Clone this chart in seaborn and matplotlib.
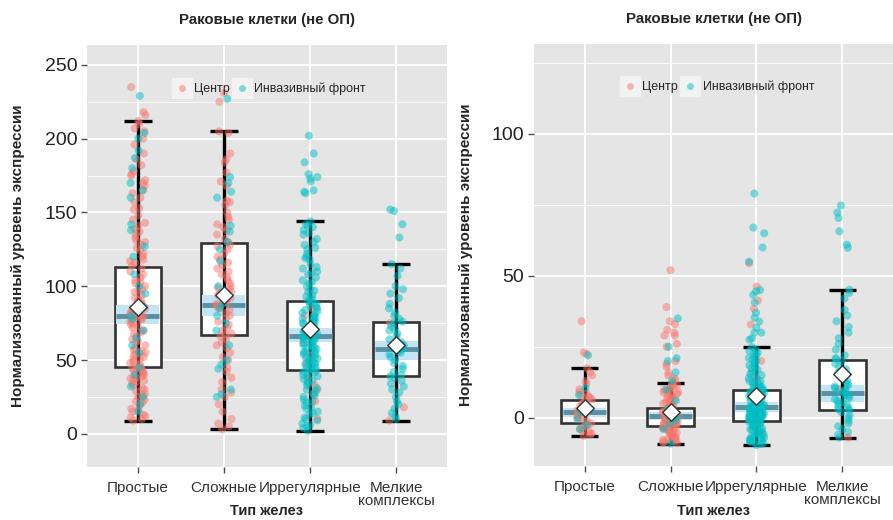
import numpy as np
import pandas as pd
import matplotlib
matplotlib.use("Agg")
import matplotlib.pyplot as plt
from matplotlib.lines import Line2D
from matplotlib.legend_handler import HandlerTuple
from matplotlib.ticker import MultipleLocator
import seaborn as sns

# ---------------- data ----------------
categories = ["Простые", "Сложные", "Иррегулярные", "Мелкие\nкомплексы"]
groups = ["Центр", "Инвазивный фронт"]
title = "Раковые клетки (не ОП)"
xlabel = "Тип желез"
ylabel = "Нормализованный уровень экспрессии"

# Left panel points
L_simple_c = [235, 218, 216, 212, 210, 207, 205, 200, 196, 190, 186, 182, 178, 176, 175, 172, 170, 168, 165, 163,
              160, 157, 153, 152, 148, 145, 143, 141, 139, 137, 135, 133, 131, 130, 128, 126, 124, 122, 120, 118,
              117, 116, 114, 112, 110, 108, 106, 104, 103, 102, 100, 98, 97, 96, 94, 92, 91, 90, 89, 88, 87, 86,
              85, 84.5, 84, 83, 82.5, 82, 81, 80, 80, 79.5, 79, 78, 77.5, 77, 76, 75, 74, 73, 72, 70, 69, 68, 66,
              64, 63, 62, 60, 58, 57, 56, 55, 54, 53, 52, 51, 50, 49, 48, 47, 46, 45, 45, 44.5, 44, 43, 42.5, 42,
              41, 40, 39.5, 39, 38, 37.5, 37, 36, 35, 34, 33, 31, 30, 29, 27, 26, 25, 23, 22, 21, 19, 17, 16, 15,
              13, 12, 11, 10, 9]
L_simple_i = [229, 204, 200, 192, 187, 180, 170, 165, 160, 142, 138, 127, 120, 108, 100, 95, 86, 83, 80, 78, 70,
              65, 60, 55, 45, 40, 32, 25, 20, 15]
L_complex_c = [231, 225, 205, 204, 190, 186, 184, 177, 171, 168, 158, 157, 155, 150, 147, 145, 142, 140, 138, 135,
               132, 130, 128, 127, 125, 122, 120, 118, 116, 114, 112, 110, 108, 106, 104, 102, 100, 99, 98, 96, 95,
               94, 92, 90, 89, 88, 87, 86, 85, 84, 82, 80, 78, 76, 74, 72, 70, 68, 67, 66, 64, 62, 60, 58, 55, 52,
               50, 45, 42, 38, 35, 30, 28, 25, 20, 15, 10, 7, 5, 3]
L_complex_i = [227, 174, 170, 164, 160, 141, 137, 130, 125, 117, 100, 95, 88, 85, 80, 75, 70, 60, 50, 47, 44, 30,
               27, 25]
L_irreg_c = [85, 80, 70, 62, 53, 48, 38, 33, 30, 27, 22, 10]
L_irreg_i = [202, 190, 184, 176, 174, 173, 171, 165, 164, 163, 144, 142, 141, 140, 138, 136, 135, 132, 130, 128,
             126, 125, 122, 120, 119, 118, 115, 113, 112, 110, 109, 108, 106, 104, 103, 102, 100, 98, 97, 96, 94,
             93, 92, 91, 90, 89, 88, 87, 86, 85, 84, 83, 82, 81, 80, 79, 78.5, 78, 77, 76.5, 76, 75, 74.5, 74, 73,
             72.5, 72, 71, 70.5, 70, 69, 68.5, 68, 67.5, 67, 66, 66, 65.5, 65, 64, 63.5, 63, 62, 61.5, 61, 60,
             59.5, 59, 58, 57.5, 57, 56, 55.5, 55, 54, 53.5, 53, 52, 51.5, 51, 50, 49.5, 49, 48, 47.5, 47, 46,
             45.5, 45, 44, 43.5, 43, 42, 41.5, 41, 40, 39, 38, 37, 36, 35, 34, 33, 31, 30, 29, 27, 26, 25, 23, 22,
             21, 19, 18, 17, 15, 14, 13, 11, 10, 9, 7, 6, 5, 4, 2]
L_small_c = [75, 18, 9]
L_small_i = [152, 151, 142, 133, 115, 112, 107, 100, 98, 95, 92, 88, 85, 82, 80, 78, 76, 75, 73, 71, 70, 68, 66,
             64, 62, 60, 59, 58, 57, 56, 55, 54, 52, 50, 48, 46, 44, 42, 40, 39, 38, 36, 34, 32, 30, 28, 25, 22,
             20, 17, 14, 12, 10]

# Right panel points
R_simple_c = [34, 23, 22.5, 17.4, 16, 15, 13, 12, 10, 9, 8.5, 8, 7.5, 7, 6.5, 6, 5.5, 5, 4.5, 4, 3.5, 3, 2.5, 2,
              2, 1.5, 1, 0.5, 0, -0.5, -1, -1.5, -2, -2.5, -3, -3.5, -4, -4.5, -5, -5.5, -6, -6.4]
R_simple_i = [22, 10.5, 8, 4, 2, -0.5, -2.5, -4]
R_complex_c = [52, 39, 34, 33, 31, 30, 29, 29, 26, 25, 20, 19, 18, 16, 15, 14, 13.5, 12.2, 11.8, 11.5, 11, 10.8,
               10.5, 10, 9.8, 9.5, 9, 8.8, 8.5, 8, 7.8, 7.5, 7, 6.8, 6.5, 6, 5.8, 5.5, 5, 4.8, 4.5, 4.2, 4, 3.7,
               3.5, 3.3, 3.1, 3, 2.8, 2.6, 2.5, 2.4, 2.2, 2.1, 2, 1.8, 1.6, 1.5, 1.4, 1.3, 1.2, 1.1, 1.0, 0.9, 0.8,
               0.7, 0.6, 0.5, 0.4, 0.3, 0.1, 0, -0.2, -0.3, -0.4, -0.5, -0.6, -0.8, -0.9, -1, -1.1, -1.2, -1.3,
               -1.5, -1.6, -1.8, -1.9, -2, -2.2, -2.3, -2.4, -2.5, -2.6, -2.8, -2.9, -3, -3.2, -3.3, -3.5, -3.6,
               -3.8, -4, -4.2, -4.5, -4.8, -5, -5.2, -5.5, -5.8, -6, -6.2, -6.5, -6.8, -7, -7.2, -7.5, -7.8, -8,
               -8.2, -8.5, -8.8, -9]
R_complex_i = [35, 25, 21, 20, 16, 13, 10, 6, 3, 2, 1, 0.5, 0, -1, -2, -4, -9.1]
R_irreg_c = [54.5, 46.2, 41.3, 38.4, 32.9, 20, 14, 8, 3, -2, -5]
R_irreg_i = [79, 67, 65, 60, 55, 45, 44.5, 43.3, 40.6, 37, 35.3, 33.9, 31.7, 30, 30, 28, 27.5, 24.9, 24, 23.5, 23,
             22.5, 22, 21.5, 21, 20.5, 20, 19.5, 19, 18.5, 18, 17.5, 17, 16.5, 16, 15.5, 15, 14.5, 14, 13.5, 13,
             12.8, 12.5, 12, 11.8, 11.5, 11, 10.8, 10.5, 10, 9.8, 9.6, 9.5, 9.2, 9, 8.8, 8.5, 8.2, 8, 7.8, 7.5,
             7.2, 7, 6.8, 6.5, 6.2, 6, 5.8, 5.6, 5.5, 5.2, 5.1, 5, 4.8, 4.6, 4.5, 4.4, 4.2, 4.1, 4, 4, 3.8, 3.6,
             3.5, 3.4, 3.2, 3.1, 3, 2.8, 2.6, 2.5, 2.4, 2.2, 2.1, 2, 1.8, 1.6, 1.5, 1.4, 1.2, 1.1, 1, 0.8, 0.6,
             0.5, 0.4, 0.2, 0.1, 0, -0.2, -0.4, -0.5, -0.6, -0.8, -0.9, -1, -1.2, -1.4, -1.5, -1.8, -2, -2.2,
             -2.5, -2.8, -3, -3.2, -3.5, -3.8, -4, -4.2, -4.5, -4.8, -5, -5.2, -5.5, -5.8, -6, -6.2, -6.5, -6.8,
             -7, -7.2, -7.5, -7.8, -8, -8.2, -8.5, -8.8, -9, -9.2, -9.6]
R_small_c = [-7, 10]
R_small_i = [74.8, 72.3, 70.4, 65.7, 61, 59.9, 45.1, 44, 42, 38, 36, 34, 32, 30, 28, 26, 24, 22, 21, 20.7, 20, 19,
             18, 17, 16, 15, 14, 13, 12, 11.5, 11, 10.5, 10, 9.5, 9, 9, 8.5, 8, 7.5, 7, 6.5, 6, 5.5, 5, 4.5, 4,
             3.5, 3, 2.8, 2, 1, 0, -1, -2, -3, -4, -5, -6, -7]

# Box statistics (per category)
L_whislo = [9, 3, 2, 9]
L_q1 = [45, 67, 43, 39]
L_med = [80, 87, 66.5, 57.5]
L_q3 = [113, 129, 90, 76]
L_whishi = [212, 205, 144, 115]
L_mean = [86, 94, 71, 60]
L_band_lo = [74.5, 80, 62, 50]
L_band_hi = [87.5, 94, 71.5, 63]

R_whislo = [-6.4, -9.1, -9.6, -7.2]
R_q1 = [-1.8, -3.0, -1.0, 2.7]
R_med = [1.9, 0.6, 3.8, 8.7]
R_q3 = [6.2, 3.6, 9.9, 20.5]
R_whishi = [17.4, 12.2, 24.9, 45.1]
R_mean = [3.5, 2.1, 7.6, 15.5]
R_band_lo = [0.3, -0.8, 2.1, 5.6]
R_band_hi = [3.6, 1.9, 5.4, 11.6]

# ---------------- style ----------------
sns.set_theme(style="darkgrid")
plt.rcParams["font.family"] = ["Liberation Sans", "DejaVu Sans"]

COL_C = "#F8766D"
COL_I = "#00BFC4"
PANEL_BG = "#E5E5E5"


def make_df(lists):
    rows = []
    for cat, (c_vals, i_vals) in zip(categories, lists):
        for v in c_vals:
            rows.append((cat, groups[0], v))
        for v in i_vals:
            rows.append((cat, groups[1], v))
    return pd.DataFrame(rows, columns=["cat", "grp", "val"])


left_df = make_df([(L_simple_c, L_simple_i), (L_complex_c, L_complex_i),
                   (L_irreg_c, L_irreg_i), (L_small_c, L_small_i)])
right_df = make_df([(R_simple_c, R_simple_i), (R_complex_c, R_complex_i),
                    (R_irreg_c, R_irreg_i), (R_small_c, R_small_i)])

fig = plt.figure(figsize=(8.93, 5.20), dpi=100)
axL = fig.add_axes([87 / 893, (520 - 467) / 520, 360 / 893, 422 / 520])
axR = fig.add_axes([534 / 893, (520 - 466) / 520, 359 / 893, 422 / 520])


def draw_panel(ax, df, whislo, q1, med, q3, whishi, mean, blo, bhi, ylim, major, minor,
               legend_xy, ylab_x, xlab_y):
    ax.set_facecolor(PANEL_BG)
    xs = np.arange(len(categories))
    # boxes
    ax.bar(xs, np.array(q3) - np.array(q1), bottom=q1, width=0.54, color="white",
           edgecolor="#333333", linewidth=1.9, zorder=2)
    # median band
    ax.bar(xs, np.array(bhi) - np.array(blo), bottom=blo, width=0.5, color="#C3E4F3",
           linewidth=0, zorder=2.1)
    # median line
    ax.hlines(med, xs - 0.25, xs + 0.25, color="#5B8FA2", linewidth=3.5, zorder=2.2)
    # whiskers (errorbar style)
    ax.vlines(xs, whislo, whishi, color="black", linewidth=2.4, zorder=2.3)
    ax.hlines(whislo, xs - 0.16, xs + 0.16, color="black", linewidth=2.4, zorder=2.3)
    ax.hlines(whishi, xs - 0.16, xs + 0.16, color="black", linewidth=2.4, zorder=2.3)
    # jittered points
    sns.stripplot(data=df, x="cat", y="val", hue="grp", order=categories, hue_order=groups,
                  palette=[COL_C, COL_I], jitter=0.09, size=5.8, alpha=0.5, linewidth=0,
                  dodge=False, ax=ax, zorder=3, legend=False)
    # mean diamonds
    ax.scatter(xs, mean, marker="D", s=80, facecolor="white", edgecolor="#333333",
               linewidth=1.0, zorder=4)

    ax.set_xlim(-0.59, 3.59)
    ax.set_ylim(*ylim)
    ax.yaxis.set_major_locator(MultipleLocator(major))
    ax.yaxis.set_minor_locator(MultipleLocator(minor))
    ax.grid(which="major", color="white", linewidth=1.3)
    ax.grid(which="minor", axis="y", color="white", linewidth=0.6)
    ax.set_axisbelow(True)
    for s in ax.spines.values():
        s.set_visible(False)
    ax.tick_params(axis="y", which="major", labelsize=14, colors="#4D4D4D", labelcolor="#222222",
                   length=4, width=1, pad=3, left=True)
    ax.tick_params(axis="y", which="minor", left=False)
    ax.tick_params(axis="x", labelsize=11, colors="#4D4D4D", labelcolor="#333333",
                   length=4, width=1, pad=6, bottom=True)
    ax.set_xticks(xs)
    ax.set_xticklabels(categories, linespacing=0.95)
    ax.set_xlabel(xlabel, fontsize=10.5, fontweight="bold", va="center")
    ax.xaxis.set_label_coords(0.5, xlab_y)
    ax.set_ylabel(ylabel, fontsize=11, fontweight="bold")
    ax.yaxis.set_label_coords(ylab_x, 0.5)
    ax.set_title(title, fontsize=10.8, fontweight="bold", pad=15)

    handles = []
    for col in [COL_C, COL_I]:
        bg = Line2D([], [], marker="s", markersize=14.5, linestyle="none",
                    markerfacecolor="#F2F2F2", markeredgecolor="#F2F2F2")
        dot = Line2D([], [], marker="o", markersize=5, linestyle="none",
                     markerfacecolor=col, markeredgecolor="none", alpha=0.5)
        handles.append((bg, dot))
    ax.legend(handles, groups, handler_map={tuple: HandlerTuple(ndivide=1, pad=0)},
              loc="center", bbox_to_anchor=legend_xy, ncol=2, frameon=False, fontsize=9,
              handlelength=1.6, handletextpad=0.2, columnspacing=0.15, borderpad=0)


draw_panel(axL, left_df, L_whislo, L_q1, L_med, L_q3, L_whishi, L_mean, L_band_lo, L_band_hi,
           (-22.5, 263.5), 50, 25, (0.505, 0.896), (25 - 87) / 360, (467 - 511) / 422)
draw_panel(axR, right_df, R_whislo, R_q1, R_med, R_q3, R_whishi, R_mean, R_band_lo, R_band_hi,
           (-17, 131.7), 50, 25, (0.51, 0.898), (473 - 534) / 359, (466 - 511) / 422)

fig.savefig("out.png", dpi=100)
